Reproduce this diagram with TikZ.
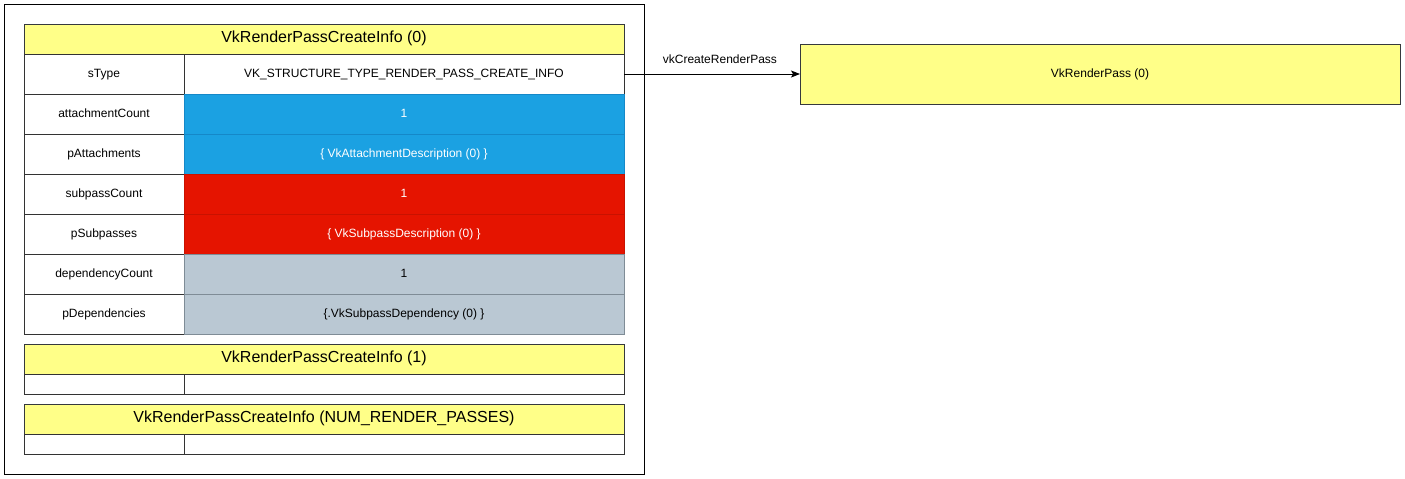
\documentclass[tikz,border=0pt]{standalone}
\usepackage{fontspec}
\setmainfont{Liberation Sans}
\usetikzlibrary{arrows.meta}
\definecolor{yel}{HTML}{FFFF88}
\definecolor{yelstroke}{HTML}{36393D}
\definecolor{blu}{HTML}{1BA1E2}
\definecolor{blustroke}{HTML}{1588C8}
\definecolor{rd}{HTML}{E51400}
\definecolor{rdstroke}{HTML}{C81200}
\definecolor{gry}{HTML}{BAC8D3}
\definecolor{grystroke}{HTML}{7F8C96}
\definecolor{cellstroke}{HTML}{333333}
\tikzset{
  cell/.style={draw=cellstroke, fill=white, rectangle, inner sep=0pt, outer sep=0pt,
    anchor=north west, line width=0.9pt, font=\fontsize{12}{14}\selectfont,
    text height=0.72em, text depth=0pt},
  keycell/.style={cell, minimum width=160pt, minimum height=40pt},
  valcell/.style={cell, minimum width=440pt, minimum height=40pt},
  bluecell/.style={valcell, fill=blu, draw=blustroke, text=white},
  redcell/.style={valcell, fill=rd, draw=rdstroke, text=white},
  graycell/.style={valcell, fill=gry, draw=grystroke},
  header/.style={cell, fill=yel, draw=yelstroke, minimum width=600pt, minimum height=30pt,
    font=\fontsize{16}{19}\selectfont},
  emptykey/.style={cell, minimum width=160pt, minimum height=20pt},
  emptyval/.style={cell, minimum width=440pt, minimum height=20pt},
}
\begin{document}
\begin{tikzpicture}[x=1pt, y=-1pt]
\useasboundingbox (0,0) rectangle (1405,479);
\node[draw=black, line width=0.9pt, rectangle, inner sep=0pt, outer sep=0pt, anchor=north west,
  minimum width=640pt, minimum height=470pt] (outer) at (4,4) {};

\node[header] (h0) at (24,24) {VkRenderPassCreateInfo (0)};
\node[keycell] (k1) at (24,54) {sType};
\node[valcell] (v1) at (184,54) {VK\_STRUCTURE\_TYPE\_RENDER\_PASS\_CREATE\_INFO};
\node[keycell] (k2) at (24,94) {attachmentCount};
\node[bluecell] (v2) at (184,94) {1};
\node[keycell] (k3) at (24,134) {pAttachments};
\node[bluecell] (v3) at (184,134) {\{ VkAttachmentDescription (0) \}};
\node[keycell] (k4) at (24,174) {subpassCount};
\node[redcell] (v4) at (184,174) {1};
\node[keycell] (k5) at (24,214) {pSubpasses};
\node[redcell] (v5) at (184,214) {\{ VkSubpassDescription (0) \}};
\node[keycell] (k6) at (24,254) {dependencyCount};
\node[graycell] (v6) at (184,254) {1};
\node[keycell] (k7) at (24,294) {pDependencies};
\node[graycell] (v7) at (184,294) {\{.VkSubpassDependency (0) \}};

\node[header] (h1) at (24,344) {VkRenderPassCreateInfo (1)};
\node[emptykey] (e1k) at (24,374) {};
\node[emptyval] (e1v) at (184,374) {};

\node[header] (h2) at (24,404) {VkRenderPassCreateInfo (NUM\_RENDER\_PASSES)};
\node[emptykey] (e2k) at (24,434) {};
\node[emptyval] (e2v) at (184,434) {};

\node[cell, fill=yel, draw=yelstroke, minimum width=600pt, minimum height=60pt] (rp) at (800,44) {VkRenderPass (0)};

\draw[line width=0.9pt, -{Stealth[length=9pt, width=7pt, inset=2pt]}] (v1.east) -- (rp.west)
  node[pos=0.545, above=10.5pt, inner sep=0pt, font=\fontsize{12}{14}\selectfont,
    text height=0.72em, text depth=0pt] (lbl) {vkCreateRenderPass};
\end{tikzpicture}
\end{document}
